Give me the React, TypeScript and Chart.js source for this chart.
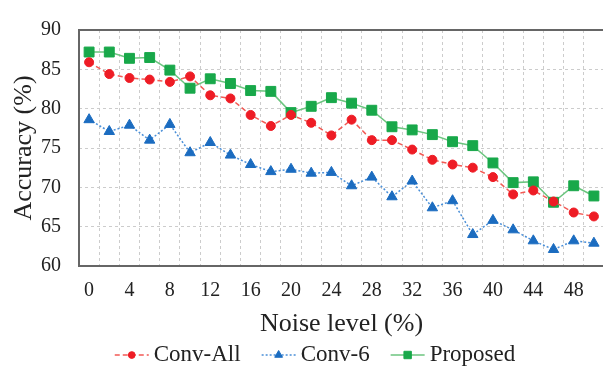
import React, { useEffect, useRef } from 'react';
import { Chart, registerables } from 'chart.js';
import { drawPoint } from 'chart.js/helpers';

Chart.register(...registerables);

const noiseLevels = [0, 2, 4, 6, 8, 10, 12, 14, 16, 18, 20, 22, 24, 26, 28, 30, 32, 34, 36, 38, 40, 42, 44, 46, 48, 50];
const convAll = [85.9, 84.4, 83.9, 83.7, 83.4, 84.1, 81.7, 81.3, 79.2, 77.8, 79.2, 78.2, 76.6, 78.6, 76.0, 76.0, 74.8, 73.5, 72.9, 72.5, 71.3, 69.1, 69.6, 68.2, 66.8, 66.3];
const conv6 = [78.6, 77.1, 77.9, 76.0, 78.0, 74.4, 75.7, 74.1, 72.9, 72.0, 72.3, 71.8, 71.9, 70.2, 71.3, 68.8, 70.8, 67.4, 68.3, 64.0, 65.8, 64.6, 63.2, 62.1, 63.2, 62.9];
const proposed = [87.2, 87.2, 86.4, 86.5, 84.9, 82.6, 83.8, 83.2, 82.3, 82.2, 79.5, 80.3, 81.4, 80.7, 79.8, 77.7, 77.3, 76.7, 75.8, 75.3, 73.1, 70.6, 70.7, 68.1, 70.2, 68.9];
const seriesNames = ['Conv-All', 'Conv-6', 'Proposed'];
const yMin = 60;
const yMax = 90;
const yStep = 5;

const FONT = '"Liberation Serif", "Times New Roman", serif';

const framePlugin = {
  id: 'frame',
  beforeDatasetsDraw(chart: any) {
    const { ctx, chartArea } = chart;
    ctx.save();
    ctx.strokeStyle = '#666666';
    ctx.lineWidth = 2;
    ctx.strokeRect(chartArea.left, chartArea.top, chartArea.right - chartArea.left, chartArea.bottom - chartArea.top);
    ctx.restore();
  },
};

const legendPlugin = {
  id: 'lineLegend',
  afterDraw(chart: any) {
    const { ctx } = chart;
    ctx.save();
    ctx.font = `23px ${FONT}`;
    const sample = 34;
    const gap = 5;
    const spacing = 21;
    const centerX = 315;
    const y = 355;
    const items = chart.data.datasets.map((ds: any) => ({ ds, w: ctx.measureText(ds.label).width }));
    const total = items.reduce((s: number, it: any) => s + sample + gap + it.w, 0) + spacing * (items.length - 1);
    let x = centerX - total / 2;
    items.forEach(({ ds, w }: any) => {
      ctx.strokeStyle = ds.borderColor;
      ctx.lineWidth = ds.borderWidth;
      ctx.setLineDash(ds.borderDash || []);
      ctx.beginPath();
      ctx.moveTo(x, y);
      ctx.lineTo(x + sample, y);
      ctx.stroke();
      ctx.setLineDash([]);
      ctx.fillStyle = ds.pointBackgroundColor;
      ctx.strokeStyle = ds.pointBorderColor;
      ctx.lineWidth = 1;
      drawPoint(ctx, { pointStyle: ds.pointStyle, rotation: 0, radius: ds.pointRadius * 0.75, borderWidth: 1 } as any, x + sample / 2, y);
      ctx.fillStyle = '#222222';
      ctx.textBaseline = 'middle';
      ctx.textAlign = 'left';
      ctx.fillText(ds.label, x + sample + gap, y);
      x += sample + gap + w + spacing;
    });
    ctx.restore();
  },
};

export default function App() {
  const ref = useRef<HTMLCanvasElement | null>(null);

  useEffect(() => {
    if (!ref.current) return;
    const chart = new Chart(ref.current, {
      type: 'line',
      data: {
        labels: noiseLevels.map(String),
        datasets: [
          {
            label: seriesNames[0],
            data: convAll,
            borderColor: '#f25a55',
            borderWidth: 1.5,
            borderDash: [5, 3],
            pointStyle: 'circle',
            pointRadius: 4.5,
            pointBackgroundColor: '#ee1c25',
            pointBorderColor: '#ee1c25',
            pointBorderWidth: 1,
            tension: 0,
          },
          {
            label: seriesNames[1],
            data: conv6,
            borderColor: '#4a8fd8',
            borderWidth: 1.5,
            borderDash: [2, 2],
            pointStyle: 'triangle',
            pointRadius: 6,
            pointBackgroundColor: '#1b6cc0',
            pointBorderColor: '#1b6cc0',
            pointBorderWidth: 1,
            tension: 0,
          },
          {
            label: seriesNames[2],
            data: proposed,
            borderColor: '#6cc57f',
            borderWidth: 1.5,
            pointStyle: 'rect',
            pointRadius: 7,
            pointBackgroundColor: '#18a84a',
            pointBorderColor: '#18a84a',
            pointBorderWidth: 1,
            tension: 0,
          },
        ],
      },
      options: {
        responsive: false,
        animation: false,
        layout: { padding: { top: 19, left: 0, right: 0, bottom: 0 } },
        plugins: {
          legend: { display: false },
          tooltip: { enabled: false },
        },
        scales: {
          x: {
            type: 'category',
            offset: true,
            grid: {
              offset: true,
              color: '#cccccc',
              lineWidth: 1,
              drawTicks: false,
            },
            border: { display: false, dash: [3, 3] },
            ticks: {
              autoSkip: false,
              maxRotation: 0,
              padding: 13,
              color: '#222222',
              font: { family: FONT, size: 20 },
              callback: (_v: any, i: number) => (i % 2 === 0 ? String(noiseLevels[i]) : ''),
            },
            title: {
              display: true,
              text: 'Noise level (%)',
              color: '#222222',
              font: { family: FONT, size: 26 },
              padding: { top: 0, bottom: 29.4 },
            },
            afterFit: (scale: any) => {
              scale.height = 103;
            },
          },
          y: {
            min: yMin,
            max: yMax,
            grid: {
              color: '#cccccc',
              lineWidth: 1,
              drawTicks: false,
            },
            border: { display: false, dash: [3, 3] },
            ticks: {
              stepSize: yStep,
              padding: 18,
              color: '#222222',
              font: { family: FONT, size: 20 },
            },
            title: {
              display: true,
              text: 'Accuracy (%)',
              color: '#222222',
              font: { family: FONT, size: 26 },
              padding: { top: 8.4, bottom: 0 },
            },
            afterFit: (scale: any) => {
              scale.width = 79;
            },
          },
        },
      } as any,
      plugins: [framePlugin, legendPlugin],
    });
    return () => chart.destroy();
  }, []);

  return (
    <div style={{ position: 'fixed', left: 0, top: 0, width: 603, height: 369, overflow: 'hidden', background: '#ffffff' }}>
      <canvas ref={ref} width={612} height={369} style={{ width: 612, height: 369, display: 'block' }} />
    </div>
  );
}
